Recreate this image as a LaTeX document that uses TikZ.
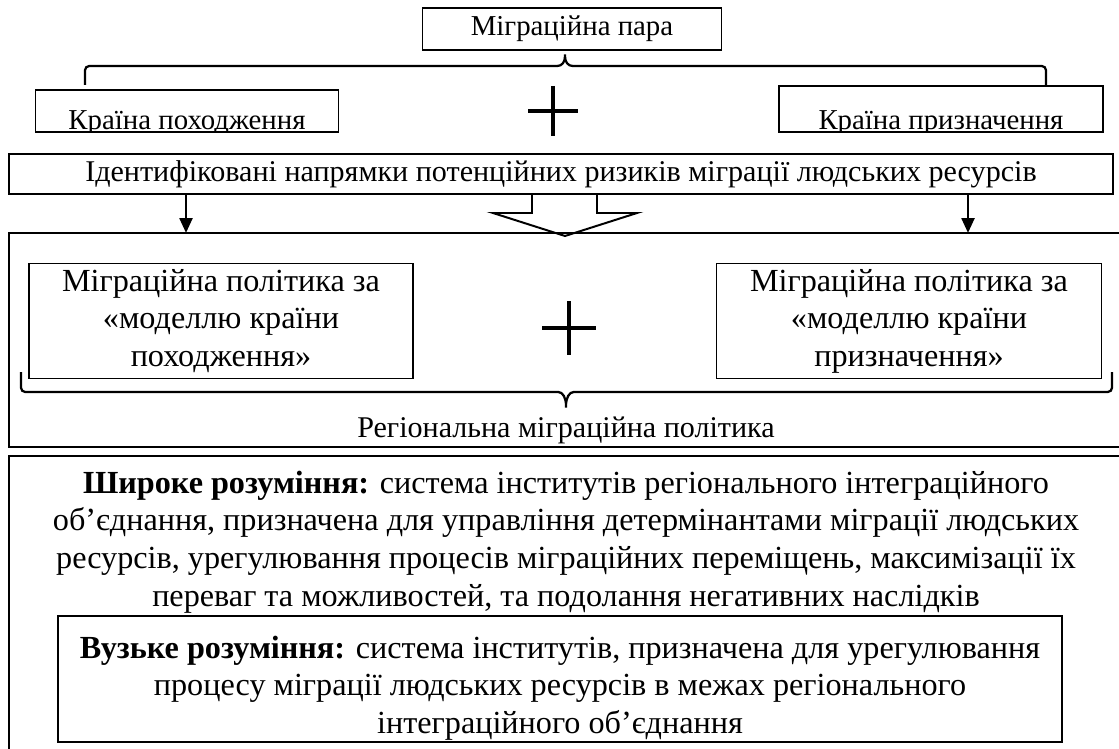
\documentclass[tikz,border=0pt]{standalone}
\usepackage{fontspec}
\setmainfont{Liberation Serif}
\usetikzlibrary{arrows.meta,positioning,calc}
\newcommand\px{0.025cm}
\tikzset{
  >={Triangle[length=10.5pt,width=9pt]},
  wh/.style 2 args={minimum width=#1*\px,minimum height=#2*\px},
  box/.style={draw,line width=.9pt,inner sep=0pt},
  lab/.style={font=\fontsize{20.5}{24}\selectfont,inner sep=0pt},
  midlab/.style={font=\fontsize{21.4}{25}\selectfont,inner sep=0pt},
  big/.style={font=\fontsize{22.9}{26.7}\selectfont,align=center,inner sep=0pt},
  arr/.style={->,line width=2pt},
  plus/.style={line width=2.3pt},
  brace/.style={line width=1.6pt,rounded corners=3pt},
  frame/.style={line width=1.3pt},
  fat/.style={line width=1.4pt,line join=miter}
}
\begin{document}
\begin{tikzpicture}[x=\px,y=-\px]
  \useasboundingbox (0,0) rectangle (1119,749);
  % migration pair
  \node[box,wh={299}{42},lab] (pair) at (572,29) {Міграційна пара};
  \draw[brace] (85,85) -- (85,66) -- (553,66) .. controls (562,66) and (565,62) .. (565,52)
    .. controls (565,62) and (568,66) .. (577,66) -- (1046,66) -- (1046,85);
  \node[box,wh={303}{42}] (origin) at (187,111) {};
  \node[box,wh={324}{46}] (dest) at (941,109) {};
  \begin{scope}
    \clip (origin.south west) rectangle (origin.north east);
    \node[lab,anchor=base] (origintxt) at ($(origin.south)+(0,-3)$) {Країна походження};
  \end{scope}
  \begin{scope}
    \clip (dest.south west) rectangle (dest.north east);
    \node[lab,anchor=base] (desttxt) at ($(dest.south)+(0,-3)$) {Країна призначення};
  \end{scope}
  \coordinate (p1) at (553,111);
  \draw[plus] ($(p1)+(-25,0)$) -- ($(p1)+(25,0)$) ($(p1)+(0,-25)$) -- ($(p1)+(0,25)$);
  \node[box,wh={1104}{40},midlab] (risks) at (561,174) {Ідентифіковані напрямки потенційних ризиків міграції людських ресурсів};

  % regional policy
  \draw[frame] (1119,233) -- (9,233) -- (9,447) -- (1119,447);
  \coordinate (a1) at (186,233);
  \coordinate (a2) at (968,233);
  \coordinate (tip) at (565,236);
  \draw[arr] (risks.south -| a1) -- (a1);
  \draw[arr] (risks.south -| a2) -- (a2);
  \draw[fat] (tip) ++(-33,-42) -- ++(0,19) -- ++(-39,0) -- (tip) -- ++(72,-23) -- ++(-40,0) -- ++(0,-19);
  \node[box,wh={384}{115},big] (polo) at (221,321) {Міграційна політика за\\«моделлю країни\\походження»};
  \node[box,wh={385}{115},big] (pold) at (909,321) {Міграційна політика за\\«моделлю країни\\призначення»};
  \coordinate (p2) at (569,328);
  \draw[plus] ($(p2)+(-27,0)$) -- ($(p2)+(27,0)$) ($(p2)+(0,-27)$) -- ($(p2)+(0,27)$);
  \draw[brace] (21,372) -- (21,392) -- (554,392) .. controls (563,392) and (566,398) .. (566,410)
    .. controls (566,398) and (569,392) .. (578,392) -- (1112,392) -- (1112,372);
  \node[midlab] (region) at (566,430) {Регіональна міграційна політика};

  % definitions
  \draw[line width=1pt] (1119,456) -- (9,456) -- (9,749);
  \node[big] (broad) at (566,542) {\textbf{Широке розуміння:} система інститутів регіонального інтеграційного\\
    об’єднання, призначена для управління детермінантами міграції людських\\
    ресурсів, урегулювання процесів міграційних переміщень, максимізації їх\\
    переваг та можливостей, та подолання негативних наслідків};
  \node[box,wh={1004}{126}] (narrow) at (560,679) {};
  \node[big] (narrowtxt) at (560,688) {\textbf{Вузьке розуміння:} система інститутів, призначена для урегулювання\\
    процесу міграції людських ресурсів в межах регіонального\\
    інтеграційного об’єднання};
\end{tikzpicture}
\end{document}
